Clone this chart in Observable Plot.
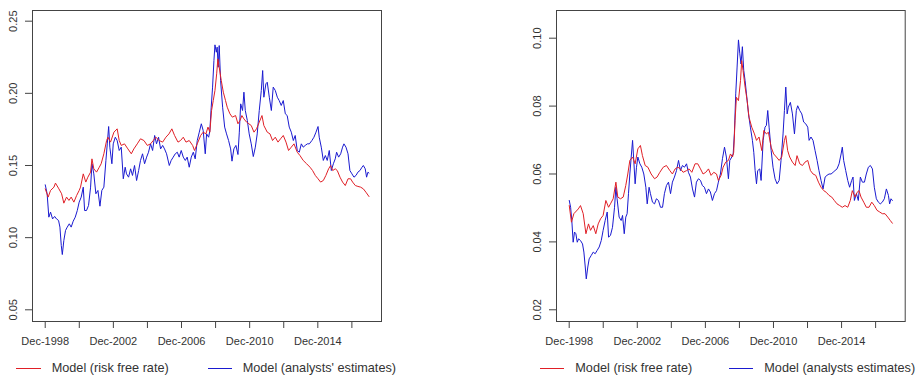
<!DOCTYPE html>
<html><head><meta charset="utf-8">
<script src="https://cdn.jsdelivr.net/npm/d3@7"></script>
<script src="https://cdn.jsdelivr.net/npm/@observablehq/plot@0.6"></script>
<style>
body{margin:0;background:#fff;}
#wrap{position:relative;width:916px;height:378px;font-family:"Liberation Sans",Arial,sans-serif;color:#333;overflow:hidden;}
.panel{position:absolute;top:0;}
.leg{position:absolute;font-size:12.7px;line-height:14px;white-space:nowrap;color:#333;}
.sw{position:absolute;height:0;border-top:1px solid;}
</style></head><body>
<div id="wrap"></div>
<script>
// x ticks (decimal years, December of even years) and their labels
const xTickYears = [1998.917, 2000.917, 2002.917, 2004.917, 2006.917, 2008.917, 2010.917, 2012.917, 2014.917, 2016.917];
const xTickLabels = ["Dec-1998", "", "Dec-2002", "", "Dec-2006", "", "Dec-2010", "", "Dec-2014", ""];
const leftYTicks = [0.05, 0.10, 0.15, 0.20, 0.25];
const rightYTicks = [0.02, 0.04, 0.06, 0.08, 0.10];
const legendLabels = ["Model (risk free rate)", "Model (analysts' estimates)", "Model (analysts estimates)"];

// Left panel: [decimal year, value]
const leftRiskFree = [[1998.92,0.1338],[1999.09,0.1281],[1999.23,0.1327],[1999.43,0.1350],[1999.52,0.1378],[1999.72,0.1338],[1999.88,0.1304],[2000.01,0.1239],[2000.17,0.1281],[2000.31,0.1258],[2000.44,0.1281],[2000.60,0.1246],[2000.76,0.1292],[2000.91,0.1327],[2000.99,0.1350],[2001.15,0.1442],[2001.30,0.1385],[2001.42,0.1419],[2001.58,0.1454],[2001.66,0.1546],[2001.77,0.1477],[2001.93,0.1454],[2002.09,0.1488],[2002.20,0.1512],[2002.36,0.1581],[2002.52,0.1673],[2002.60,0.1696],[2002.75,0.1662],[2002.95,0.1731],[2003.14,0.1754],[2003.26,0.1673],[2003.38,0.1639],[2003.57,0.1650],[2003.77,0.1615],[2003.97,0.1581],[2004.12,0.1615],[2004.32,0.1650],[2004.51,0.1685],[2004.71,0.1673],[2004.91,0.1639],[2005.10,0.1650],[2005.26,0.1673],[2005.41,0.1696],[2005.61,0.1673],[2005.81,0.1662],[2006.00,0.1696],[2006.18,0.1719],[2006.35,0.1754],[2006.51,0.1708],[2006.71,0.1662],[2006.86,0.1673],[2007.02,0.1696],[2007.18,0.1662],[2007.37,0.1673],[2007.57,0.1639],[2007.68,0.1604],[2007.84,0.1650],[2008.04,0.1708],[2008.19,0.1731],[2008.35,0.1719],[2008.47,0.1766],[2008.58,0.1731],[2008.68,0.1881],[2008.78,0.1950],[2008.88,0.2020],[2008.98,0.2135],[2009.05,0.2239],[2009.13,0.2181],[2009.25,0.2089],[2009.37,0.2008],[2009.50,0.1950],[2009.60,0.1904],[2009.76,0.1858],[2009.90,0.1835],[2010.09,0.1846],[2010.23,0.1789],[2010.35,0.1812],[2010.46,0.1846],[2010.58,0.1823],[2010.74,0.1800],[2010.87,0.1789],[2011.01,0.1777],[2011.17,0.1731],[2011.32,0.1754],[2011.48,0.1800],[2011.64,0.1846],[2011.75,0.1777],[2011.95,0.1731],[2012.11,0.1719],[2012.26,0.1673],[2012.42,0.1696],[2012.58,0.1662],[2012.73,0.1685],[2012.89,0.1708],[2013.05,0.1662],[2013.20,0.1604],[2013.36,0.1627],[2013.52,0.1650],[2013.71,0.1592],[2013.87,0.1569],[2014.06,0.1535],[2014.26,0.1512],[2014.46,0.1488],[2014.61,0.1465],[2014.77,0.1431],[2014.93,0.1408],[2015.08,0.1385],[2015.24,0.1396],[2015.39,0.1431],[2015.55,0.1477],[2015.67,0.1500],[2015.79,0.1465],[2015.94,0.1477],[2016.06,0.1465],[2016.22,0.1419],[2016.37,0.1385],[2016.53,0.1361],[2016.69,0.1408],[2016.84,0.1408],[2016.96,0.1385],[2017.12,0.1361],[2017.27,0.1355],[2017.43,0.1350],[2017.59,0.1338],[2017.74,0.1315],[2017.92,0.1285]];
const leftAnalysts = [[1998.92,0.1366],[1999.03,0.1304],[1999.13,0.1142],[1999.23,0.1177],[1999.35,0.1130],[1999.47,0.1147],[1999.58,0.1130],[1999.70,0.1119],[1999.78,0.1073],[1999.86,0.0946],[1999.92,0.0883],[2000.01,0.0980],[2000.11,0.1050],[2000.21,0.1073],[2000.33,0.1096],[2000.44,0.1073],[2000.56,0.1114],[2000.68,0.1142],[2000.80,0.1188],[2000.91,0.1246],[2001.03,0.1281],[2001.15,0.1350],[2001.23,0.1188],[2001.34,0.1188],[2001.46,0.1223],[2001.58,0.1350],[2001.66,0.1512],[2001.77,0.1442],[2001.89,0.1304],[2002.01,0.1327],[2002.13,0.1218],[2002.24,0.1327],[2002.36,0.1350],[2002.48,0.1535],[2002.56,0.1650],[2002.64,0.1770],[2002.71,0.1627],[2002.83,0.1512],[2002.91,0.1650],[2003.03,0.1696],[2003.14,0.1673],[2003.26,0.1604],[2003.38,0.1627],[2003.50,0.1408],[2003.61,0.1488],[2003.69,0.1442],[2003.81,0.1419],[2003.93,0.1477],[2004.04,0.1431],[2004.16,0.1500],[2004.28,0.1396],[2004.40,0.1465],[2004.51,0.1535],[2004.63,0.1581],[2004.75,0.1512],[2004.87,0.1558],[2004.98,0.1592],[2005.10,0.1650],[2005.22,0.1604],[2005.34,0.1708],[2005.45,0.1650],[2005.57,0.1696],[2005.69,0.1615],[2005.81,0.1639],[2005.92,0.1615],[2006.04,0.1581],[2006.20,0.1500],[2006.31,0.1535],[2006.43,0.1558],[2006.55,0.1581],[2006.67,0.1592],[2006.78,0.1558],[2006.90,0.1604],[2007.02,0.1558],[2007.14,0.1535],[2007.25,0.1558],[2007.37,0.1488],[2007.49,0.1558],[2007.61,0.1592],[2007.72,0.1546],[2007.84,0.1673],[2007.96,0.1731],[2008.08,0.1789],[2008.19,0.1742],[2008.31,0.1581],[2008.39,0.1719],[2008.51,0.1696],[2008.58,0.1742],[2008.66,0.1904],[2008.74,0.2043],[2008.82,0.2227],[2008.88,0.2336],[2008.96,0.2285],[2009.01,0.2320],[2009.07,0.2181],[2009.13,0.2331],[2009.21,0.2089],[2009.33,0.1904],[2009.45,0.1766],[2009.56,0.1719],[2009.68,0.1673],[2009.80,0.1615],[2009.88,0.1530],[2009.99,0.1615],[2010.11,0.1639],[2010.23,0.1576],[2010.31,0.1731],[2010.39,0.1927],[2010.50,0.1881],[2010.58,0.2008],[2010.66,0.1881],[2010.78,0.1812],[2010.89,0.1719],[2011.01,0.1650],[2011.13,0.1562],[2011.25,0.1627],[2011.36,0.1719],[2011.48,0.1881],[2011.60,0.2020],[2011.68,0.2158],[2011.75,0.1973],[2011.87,0.2066],[2011.95,0.2077],[2012.07,0.1973],[2012.19,0.1881],[2012.30,0.2043],[2012.42,0.2020],[2012.54,0.1973],[2012.65,0.1950],[2012.77,0.1916],[2012.89,0.1950],[2013.01,0.1858],[2013.12,0.1846],[2013.24,0.1766],[2013.36,0.1731],[2013.48,0.1673],[2013.59,0.1708],[2013.71,0.1604],[2013.83,0.1592],[2013.95,0.1650],[2014.06,0.1627],[2014.18,0.1639],[2014.30,0.1650],[2014.42,0.1650],[2014.57,0.1673],[2014.69,0.1696],[2014.81,0.1731],[2014.93,0.1770],[2015.00,0.1696],[2015.12,0.1627],[2015.24,0.1535],[2015.36,0.1569],[2015.47,0.1535],[2015.59,0.1604],[2015.71,0.1465],[2015.83,0.1512],[2015.94,0.1546],[2016.02,0.1592],[2016.14,0.1558],[2016.26,0.1581],[2016.37,0.1627],[2016.45,0.1650],[2016.57,0.1627],[2016.69,0.1581],[2016.80,0.1465],[2016.92,0.1442],[2017.04,0.1419],[2017.16,0.1431],[2017.27,0.1454],[2017.39,0.1465],[2017.51,0.1488],[2017.59,0.1500],[2017.70,0.1477],[2017.78,0.1419],[2017.86,0.1454],[2017.92,0.1447]];

// Right panel: [decimal year, value]
const rightRiskFree = [[1998.92,0.0507],[1999.05,0.0458],[1999.19,0.0483],[1999.45,0.0497],[1999.58,0.0507],[1999.74,0.0483],[1999.90,0.0424],[2000.05,0.0453],[2000.17,0.0434],[2000.33,0.0448],[2000.48,0.0424],[2000.62,0.0453],[2000.76,0.0468],[2000.91,0.0478],[2001.07,0.0522],[2001.23,0.0502],[2001.34,0.0512],[2001.50,0.0527],[2001.66,0.0576],[2001.77,0.0532],[2001.93,0.0527],[2002.09,0.0532],[2002.24,0.0566],[2002.36,0.0600],[2002.48,0.0640],[2002.64,0.0650],[2002.79,0.0630],[2002.95,0.0674],[2003.10,0.0684],[2003.22,0.0654],[2003.38,0.0625],[2003.54,0.0620],[2003.73,0.0600],[2003.93,0.0586],[2004.08,0.0591],[2004.24,0.0605],[2004.44,0.0620],[2004.63,0.0625],[2004.83,0.0610],[2004.98,0.0600],[2005.14,0.0615],[2005.30,0.0620],[2005.45,0.0615],[2005.61,0.0605],[2005.81,0.0610],[2005.96,0.0615],[2006.12,0.0605],[2006.31,0.0630],[2006.47,0.0630],[2006.63,0.0615],[2006.78,0.0600],[2006.94,0.0605],[2007.10,0.0615],[2007.25,0.0596],[2007.41,0.0605],[2007.57,0.0600],[2007.68,0.0581],[2007.84,0.0596],[2007.96,0.0620],[2008.11,0.0635],[2008.27,0.0640],[2008.39,0.0659],[2008.51,0.0650],[2008.58,0.0664],[2008.66,0.0758],[2008.74,0.0826],[2008.86,0.0816],[2008.98,0.0875],[2009.05,0.0934],[2009.13,0.0905],[2009.25,0.0856],[2009.37,0.0816],[2009.48,0.0767],[2009.64,0.0738],[2009.80,0.0718],[2009.92,0.0699],[2010.07,0.0709],[2010.23,0.0669],[2010.35,0.0728],[2010.50,0.0718],[2010.62,0.0723],[2010.78,0.0679],[2010.93,0.0659],[2011.09,0.0650],[2011.25,0.0640],[2011.40,0.0650],[2011.56,0.0699],[2011.64,0.0713],[2011.75,0.0669],[2011.87,0.0650],[2012.03,0.0635],[2012.19,0.0625],[2012.30,0.0654],[2012.46,0.0630],[2012.62,0.0625],[2012.77,0.0635],[2012.93,0.0640],[2013.09,0.0610],[2013.24,0.0600],[2013.40,0.0596],[2013.56,0.0576],[2013.71,0.0561],[2013.87,0.0551],[2014.02,0.0546],[2014.18,0.0537],[2014.34,0.0532],[2014.49,0.0522],[2014.65,0.0512],[2014.81,0.0507],[2014.96,0.0502],[2015.12,0.0507],[2015.28,0.0502],[2015.43,0.0522],[2015.55,0.0551],[2015.71,0.0532],[2015.83,0.0546],[2015.94,0.0551],[2016.06,0.0532],[2016.22,0.0517],[2016.37,0.0502],[2016.53,0.0502],[2016.69,0.0517],[2016.84,0.0507],[2017.00,0.0493],[2017.16,0.0488],[2017.31,0.0483],[2017.47,0.0483],[2017.63,0.0473],[2017.78,0.0463],[2017.90,0.0455]];
const rightAnalysts = [[1998.92,0.0522],[1999.00,0.0502],[1999.07,0.0463],[1999.15,0.0399],[1999.23,0.0429],[1999.31,0.0424],[1999.39,0.0399],[1999.47,0.0409],[1999.58,0.0404],[1999.70,0.0394],[1999.78,0.0370],[1999.86,0.0326],[1999.92,0.0291],[2000.01,0.0326],[2000.09,0.0350],[2000.21,0.0360],[2000.33,0.0370],[2000.44,0.0365],[2000.56,0.0375],[2000.68,0.0385],[2000.80,0.0404],[2000.91,0.0434],[2001.03,0.0463],[2001.15,0.0488],[2001.23,0.0414],[2001.34,0.0419],[2001.46,0.0443],[2001.58,0.0502],[2001.66,0.0561],[2001.73,0.0527],[2001.85,0.0473],[2001.97,0.0463],[2002.05,0.0478],[2002.15,0.0424],[2002.24,0.0473],[2002.32,0.0483],[2002.40,0.0542],[2002.48,0.0600],[2002.56,0.0650],[2002.64,0.0699],[2002.71,0.0640],[2002.79,0.0571],[2002.87,0.0620],[2002.95,0.0650],[2003.07,0.0630],[2003.18,0.0620],[2003.30,0.0600],[2003.42,0.0561],[2003.50,0.0512],[2003.61,0.0561],[2003.69,0.0542],[2003.81,0.0517],[2003.93,0.0512],[2004.04,0.0527],[2004.16,0.0522],[2004.28,0.0502],[2004.40,0.0502],[2004.51,0.0542],[2004.63,0.0566],[2004.75,0.0576],[2004.87,0.0542],[2004.98,0.0576],[2005.10,0.0591],[2005.22,0.0610],[2005.34,0.0640],[2005.45,0.0610],[2005.57,0.0625],[2005.69,0.0620],[2005.81,0.0630],[2005.92,0.0605],[2006.04,0.0591],[2006.16,0.0556],[2006.28,0.0532],[2006.39,0.0576],[2006.51,0.0586],[2006.63,0.0581],[2006.74,0.0566],[2006.86,0.0561],[2006.98,0.0542],[2007.10,0.0556],[2007.21,0.0547],[2007.33,0.0522],[2007.45,0.0542],[2007.57,0.0551],[2007.68,0.0576],[2007.80,0.0600],[2007.92,0.0645],[2008.04,0.0679],[2008.15,0.0650],[2008.27,0.0586],[2008.35,0.0640],[2008.47,0.0650],[2008.55,0.0659],[2008.62,0.0718],[2008.70,0.0836],[2008.78,0.0915],[2008.86,0.0995],[2008.94,0.0954],[2009.01,0.0924],[2009.09,0.0975],[2009.17,0.0905],[2009.25,0.0875],[2009.33,0.0836],[2009.45,0.0777],[2009.56,0.0738],[2009.68,0.0699],[2009.76,0.0664],[2009.84,0.0610],[2009.92,0.0571],[2009.99,0.0610],[2010.11,0.0615],[2010.19,0.0581],[2010.31,0.0699],[2010.42,0.0738],[2010.50,0.0743],[2010.58,0.0787],[2010.66,0.0738],[2010.78,0.0669],[2010.89,0.0620],[2011.01,0.0586],[2011.13,0.0571],[2011.25,0.0581],[2011.36,0.0640],[2011.48,0.0718],[2011.56,0.0787],[2011.64,0.0856],[2011.72,0.0777],[2011.79,0.0797],[2011.91,0.0811],[2012.03,0.0777],[2012.15,0.0718],[2012.26,0.0787],[2012.34,0.0801],[2012.46,0.0787],[2012.58,0.0777],[2012.69,0.0753],[2012.81,0.0748],[2012.93,0.0738],[2013.01,0.0699],[2013.12,0.0709],[2013.24,0.0699],[2013.36,0.0669],[2013.48,0.0640],[2013.59,0.0610],[2013.71,0.0581],[2013.83,0.0556],[2013.95,0.0591],[2014.06,0.0596],[2014.18,0.0600],[2014.30,0.0600],[2014.42,0.0605],[2014.53,0.0610],[2014.65,0.0615],[2014.77,0.0630],[2014.89,0.0659],[2014.96,0.0679],[2015.04,0.0640],[2015.16,0.0610],[2015.28,0.0581],[2015.39,0.0561],[2015.51,0.0581],[2015.59,0.0591],[2015.67,0.0522],[2015.79,0.0542],[2015.90,0.0522],[2016.02,0.0591],[2016.14,0.0576],[2016.26,0.0576],[2016.37,0.0600],[2016.49,0.0620],[2016.61,0.0625],[2016.73,0.0615],[2016.84,0.0561],[2016.96,0.0527],[2017.08,0.0517],[2017.19,0.0512],[2017.31,0.0517],[2017.43,0.0527],[2017.55,0.0556],[2017.67,0.0537],[2017.74,0.0512],[2017.82,0.0527],[2017.90,0.0522]];

const RED = "#e01f26";
const BLUE = "#1a1ad0";
const AXIS = "#444";
const TEXT = "#333";
const fmt = d3.format(".2f");

function panel({ml, mr, yDomain, yTicks, rf, an}) {
  return Plot.plot({
    width: 458, height: 352,
    marginLeft: ml, marginRight: mr, marginTop: 10, marginBottom: 31,
    style: {background: "transparent", fontFamily: "'Liberation Sans', Arial, sans-serif", fontSize: "11px", color: TEXT},
    x: {type: "linear", domain: [1998.171, 2018.655]},
    y: {domain: yDomain},
    marks: [
      Plot.axisX({ticks: xTickYears, tickSize: 7, tickFormat: () => "", stroke: AXIS, label: null}),
      Plot.axisY({ticks: yTicks, tickSize: 7, tickFormat: () => "", stroke: AXIS, label: null}),
      Plot.text(xTickYears, {x: d => d, text: (d, i) => xTickLabels[i], frameAnchor: "bottom", dy: 19.7, lineAnchor: "middle", fill: TEXT, fontSize: 11}),
      Plot.text(yTicks, {y: d => d, text: d => fmt(d), frameAnchor: "left", dx: -19.3, rotate: -90, textAnchor: "middle", lineAnchor: "middle", fill: TEXT, fontSize: 11}),
      Plot.line(an, {x: d => d[0], y: d => d[1], stroke: BLUE, strokeWidth: 1}),
      Plot.line(rf, {x: d => d[0], y: d => d[1], stroke: RED, strokeWidth: 1}),
      Plot.frame({stroke: AXIS})
    ]
  });
}

const wrap = document.getElementById("wrap");
const left = panel({ml: 32, mr: 77, yDomain: [0.0419, 0.2574], yTicks: leftYTicks, rf: leftRiskFree, an: leftAnalysts});
const right = panel({ml: 98, mr: 11.3, yDomain: [0.01655, 0.10816], yTicks: rightYTicks, rf: rightRiskFree, an: rightAnalysts});
left.classList.add("panel"); left.style.left = "0px";
right.classList.add("panel"); right.style.left = "458px";
wrap.appendChild(left); wrap.appendChild(right);

function legendItem(x1, x2, tx, color, label) {
  const sw = document.createElement("div");
  sw.className = "sw"; sw.style.left = x1 + "px"; sw.style.width = (x2 - x1) + "px"; sw.style.top = "368px"; sw.style.borderTopColor = color;
  const t = document.createElement("div");
  t.className = "leg"; t.style.left = tx + "px"; t.style.top = "361px"; t.textContent = label;
  wrap.appendChild(sw); wrap.appendChild(t);
}
legendItem(16, 41, 51.7, RED, legendLabels[0]);
legendItem(208, 232, 242.7, BLUE, legendLabels[1]);
legendItem(540, 564, 575.3, RED, legendLabels[0]);
legendItem(729, 753, 764.3, BLUE, legendLabels[2]);
</script>
</body></html>
